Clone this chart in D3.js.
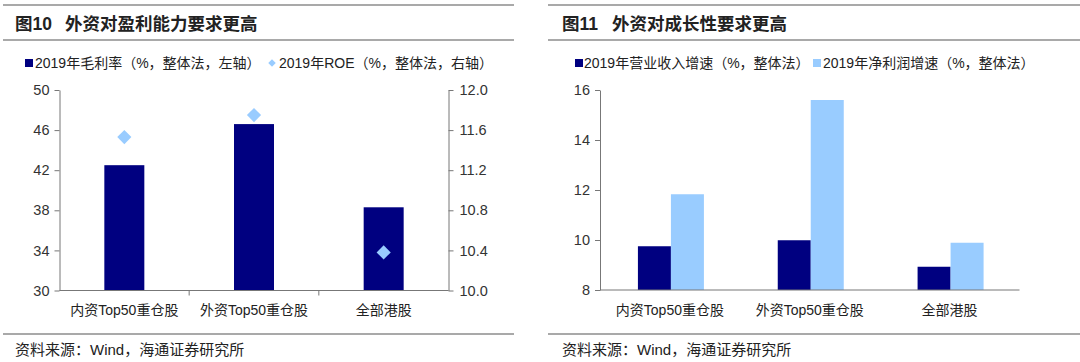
<!DOCTYPE html>
<html>
<head>
<meta charset="utf-8">
<script src="https://cdn.jsdelivr.net/npm/d3@7"></script>
<style>
  body { margin: 0; background: #fff; }
  svg text { font-family: "Liberation Sans", Arial, "Noto Sans CJK SC", sans-serif; fill: #222; }
  .title { font-size: 17.5px; font-weight: bold; font-family: "Liberation Sans", "Noto Sans CJK SC", sans-serif; white-space: pre; }
  .legend { font-size: 14px; }
  .tick text { font-size: 14.5px; fill: #333; }
  .axis path, .axis line { stroke: #777; }
  .cat { font-size: 14px; }
  .src { font-size: 15px; }
</style>
</head>
<body>
<script>
var categories = ["内资Top50重仓股", "外资Top50重仓股", "全部港股"];

// left chart
var grossMargin = [42.5, 46.6, 38.3];
var roe = [11.53, 11.75, 10.38];
var leftTicks = [30, 34, 38, 42, 46, 50];
var rightTicks = [10.0, 10.4, 10.8, 11.2, 11.6, 12.0];

// right chart
var revenueGrowth = [9.75, 9.99, 8.93];
var profitGrowth = [11.83, 15.6, 9.89];
var growthTicks = [8, 10, 12, 14, 16];

var navy = "#000080";
var light = "#99CCFF";

var svg = d3.select("body").append("svg")
  .attr("width", 1080)
  .attr("height", 362);

// frame lines, titles and source notes
function panelFrame(x0, x1, titleX, title) {
  svg.append("line").attr("x1", x0).attr("x2", x1).attr("y1", 5).attr("y2", 5)
    .attr("stroke", "#555").attr("stroke-width", 1.2);
  svg.append("line").attr("x1", x0).attr("x2", x1).attr("y1", 40).attr("y2", 40)
    .attr("stroke", "#555").attr("stroke-width", 1.2);
  svg.append("line").attr("x1", x0).attr("x2", x1).attr("y1", 334).attr("y2", 334)
    .attr("stroke", "#555").attr("stroke-width", 1.2);
  var t = svg.append("text").attr("class", "title").attr("y", 30);
  t.append("tspan").attr("x", titleX).text(title[0]);
  t.append("tspan").attr("x", titleX + 50).text(title[1]);
  svg.append("text").attr("class", "src").attr("x", titleX).attr("y", 355).text("资料来源：Wind，海通证券研究所");
}
panelFrame(3, 514, 15, ["图10", "外资对盈利能力要求更高"]);
panelFrame(548, 1080, 562, ["图11", "外资对成长性要求更高"]);

// ---------- left chart ----------
var left = { x0: 59.5, x1: 448.5, top: 90, bottom: 290.5 };

var xL = d3.scaleBand().domain(categories).range([left.x0, left.x1]);
var yL = d3.scaleLinear().domain([30, 50]).range([left.bottom, left.top]);
var yR = d3.scaleLinear().domain([10, 12]).range([left.bottom, left.top]);

var gL = svg.append("g");

gL.selectAll("rect.gm")
  .data(grossMargin)
  .enter().append("rect")
  .attr("class", "gm")
  .attr("x", function(d, i) { return xL(categories[i]) + xL.bandwidth() / 2 - 20; })
  .attr("width", 40)
  .attr("y", function(d) { return yL(d); })
  .attr("height", function(d) { return yL(30) - yL(d); })
  .attr("fill", navy);

gL.selectAll("path.roe")
  .data(roe)
  .enter().append("path")
  .attr("class", "roe")
  .attr("d", d3.symbol().type(d3.symbolSquare).size(100))
  .attr("transform", function(d, i) {
    return "translate(" + (xL(categories[i]) + xL.bandwidth() / 2) + "," + yR(d) + ") rotate(45)";
  })
  .attr("fill", light);

gL.append("g")
  .attr("class", "axis")
  .attr("transform", "translate(" + left.x0 + ",0)")
  .call(d3.axisLeft(yL).tickValues(leftTicks).tickSize(5).tickPadding(5).tickSizeOuter(0));

gL.append("g")
  .attr("class", "axis")
  .attr("transform", "translate(" + left.x1 + ",0)")
  .call(d3.axisRight(yR).tickValues(rightTicks).tickFormat(d3.format(".1f")).tickSize(5).tickPadding(6).tickSizeOuter(0));

// x axis with ticks between categories
var axL = gL.append("g").attr("class", "axis");
axL.append("line").attr("x1", left.x0).attr("x2", left.x1)
  .attr("y1", left.bottom).attr("y2", left.bottom).attr("stroke", "#777");
axL.selectAll("line.sep")
  .data(categories.slice(1))
  .enter().append("line")
  .attr("class", "sep")
  .attr("x1", function(d) { return xL(d); })
  .attr("x2", function(d) { return xL(d); })
  .attr("y1", left.bottom).attr("y2", left.bottom + 5)
  .attr("stroke", "#777");
gL.selectAll("text.cat")
  .data(categories)
  .enter().append("text")
  .attr("class", "cat")
  .attr("x", function(d) { return xL(d) + xL.bandwidth() / 2; })
  .attr("y", 315)
  .attr("text-anchor", "middle")
  .text(function(d) { return d; });

// legend
var legL = svg.append("g");
legL.append("rect").attr("x", 25).attr("y", 59).attr("width", 8).attr("height", 8).attr("fill", navy);
legL.append("text").attr("class", "legend").attr("x", 35).attr("y", 68).text("2019年毛利率（%，整体法，左轴）");
legL.append("path")
  .attr("d", d3.symbol().type(d3.symbolSquare).size(28))
  .attr("transform", "translate(272,63) rotate(45)")
  .attr("fill", light);
legL.append("text").attr("class", "legend").attr("x", 279).attr("y", 68).text("2019年ROE（%，整体法，右轴）");

// ---------- right chart ----------
var right = { x0: 600, x1: 1019.5, top: 90, bottom: 290 };

var xG = d3.scaleBand().domain(categories).range([right.x0, right.x1]);
var yG = d3.scaleLinear().domain([8, 16]).range([right.bottom, right.top]);

var gR = svg.append("g");

gR.selectAll("rect.rev")
  .data(revenueGrowth)
  .enter().append("rect")
  .attr("class", "rev")
  .attr("x", function(d, i) { return xG(categories[i]) + xG.bandwidth() / 2 - 32; })
  .attr("width", 33)
  .attr("y", function(d) { return yG(d); })
  .attr("height", function(d) { return yG(8) - yG(d); })
  .attr("fill", navy);

gR.selectAll("rect.prof")
  .data(profitGrowth)
  .enter().append("rect")
  .attr("class", "prof")
  .attr("x", function(d, i) { return xG(categories[i]) + xG.bandwidth() / 2 + 1; })
  .attr("width", 33)
  .attr("y", function(d) { return yG(d); })
  .attr("height", function(d) { return yG(8) - yG(d); })
  .attr("fill", light);

gR.append("g")
  .attr("class", "axis")
  .attr("transform", "translate(" + right.x0 + ",0)")
  .call(d3.axisLeft(yG).tickValues(growthTicks).tickSize(5).tickPadding(5).tickSizeOuter(0));

gR.append("line").attr("x1", right.x0).attr("x2", right.x1)
  .attr("y1", right.bottom).attr("y2", right.bottom).attr("stroke", "#777");

gR.selectAll("text.cat")
  .data(categories)
  .enter().append("text")
  .attr("class", "cat")
  .attr("x", function(d) { return xG(d) + xG.bandwidth() / 2; })
  .attr("y", 315)
  .attr("text-anchor", "middle")
  .text(function(d) { return d; });

var legR = svg.append("g");
legR.append("rect").attr("x", 575).attr("y", 59).attr("width", 8).attr("height", 8).attr("fill", navy);
legR.append("text").attr("class", "legend").attr("x", 584).attr("y", 68).text("2019年营业收入增速（%，整体法）");
legR.append("rect").attr("x", 813).attr("y", 59).attr("width", 8).attr("height", 8).attr("fill", light);
legR.append("text").attr("class", "legend").attr("x", 823).attr("y", 68).text("2019年净利润增速（%，整体法）");
</script>
</body>
</html>
